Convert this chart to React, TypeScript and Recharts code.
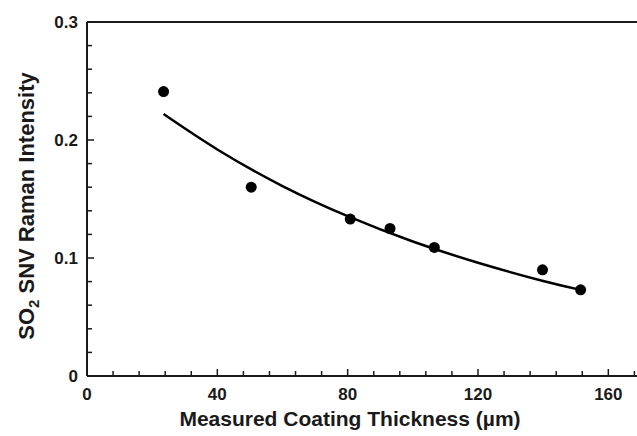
import React from "react";
import {
  ComposedChart,
  Scatter,
  Line,
  XAxis,
  YAxis,
  ReferenceLine,
} from "recharts";

// measured points (thickness µm, SNV intensity)
const thickness = [23.5, 50.4, 80.8, 93.0, 106.6, 139.8, 151.5];
const intensity = [0.241, 0.16, 0.133, 0.125, 0.109, 0.09, 0.073];

// fitted curve
const fitX = [23.5, 40, 60, 80, 100, 120, 140, 151.5];
const fitY = [0.222, 0.192, 0.161, 0.1355, 0.114, 0.096, 0.0805, 0.073];

const xTicks = [0, 8, 16, 24, 32, 40, 48, 56, 64, 72, 80, 88, 96, 104, 112, 120, 128, 136, 144, 152, 160, 168];
const yTicks = [0, 0.02, 0.04, 0.06, 0.08, 0.1, 0.12, 0.14, 0.16, 0.18, 0.2, 0.22, 0.24, 0.26, 0.28, 0.3];
const xLabels = [0, 40, 80, 120, 160];
const yLabels = [0, 0.1, 0.2, 0.3];

const points = thickness.map((x, i) => ({ x, y: intensity[i] }));
const fit = fitX.map((x, i) => ({ x, y: fitY[i] }));

const FONT = "'Liberation Sans', Arial, Helvetica, sans-serif";
const INK = "#1a1a1a";

const XTick = (props: any) => {
  const { x, y, payload } = props;
  const major = xLabels.includes(payload.value);
  return (
    <g>
      <line x1={x} x2={x} y1={y} y2={y - (major ? 7 : 5)} stroke={INK} strokeWidth={1.5} />
      {major && (
        <text x={x} y={y + 24} textAnchor="middle" fontFamily={FONT} fontWeight="bold" fontSize={17} fill={INK}>
          {payload.value}
        </text>
      )}
    </g>
  );
};

const YTick = (props: any) => {
  const { x, y, payload } = props;
  const v = Math.round(payload.value * 100) / 100;
  const major = yLabels.includes(v);
  return (
    <g>
      <line x1={x} x2={x + (major ? 7 : 5)} y1={y} y2={y} stroke={INK} strokeWidth={1.5} />
      {major && (
        <text x={x - 9} y={y + 6} textAnchor="end" fontFamily={FONT} fontWeight="bold" fontSize={17} fill={INK}>
          {v === 0 ? "0" : v.toFixed(1)}
        </text>
      )}
    </g>
  );
};

const YTitle = () => (
  <text
    transform="rotate(-90, 34, 206)"
    x={34}
    y={206}
    textAnchor="middle"
    fontFamily={FONT}
    fontWeight="bold"
    fontSize={22}
    fill={INK}
  >
    <tspan>SO</tspan>
    <tspan fontSize={15} dy={5}>2</tspan>
    <tspan dy={-5}>{"  SNV Raman Intensity"}</tspan>
  </text>
);

const XTitle = () => (
  <text x={350} y={426} textAnchor="middle" fontFamily={FONT} fontWeight="bold" fontSize={21} fill={INK}>
    Measured Coating Thickness (µm)
  </text>
);

export default function App() {
  return (
    <div style={{ position: "absolute", left: 0, top: 0, width: 637, height: 436, background: "#fff" }}>
      <ComposedChart width={637} height={436} margin={{ top: 22, right: 0, bottom: 0, left: 0 }}>
        <XAxis
          type="number"
          dataKey="x"
          domain={[0, 168.8]}
          ticks={xTicks}
          interval={0}
          allowDataOverflow
          height={60}
          tickSize={0}
          tickMargin={0}
          tick={<XTick />}
          stroke={INK}
          strokeWidth={2}
          label={<XTitle />}
        />
        <YAxis
          type="number"
          dataKey="y"
          domain={[0, 0.3]}
          ticks={yTicks}
          interval={0}
          width={87}
          tickSize={0}
          tickMargin={0}
          tick={<YTick />}
          stroke={INK}
          strokeWidth={2}
          label={<YTitle />}
        />
        <ReferenceLine y={0.3} stroke={INK} strokeWidth={2} />
        <Line
          data={fit}
          dataKey="y"
          type="natural"
          stroke="#000"
          strokeWidth={2.5}
          dot={false}
          activeDot={false}
          isAnimationActive={false}
        />
        <Scatter
          data={points}
          dataKey="y"
          fill="#000"
          shape={(p: any) => <circle cx={p.cx} cy={p.cy} r={5.5} fill="#000" />}
          isAnimationActive={false}
        />
      </ComposedChart>
    </div>
  );
}
